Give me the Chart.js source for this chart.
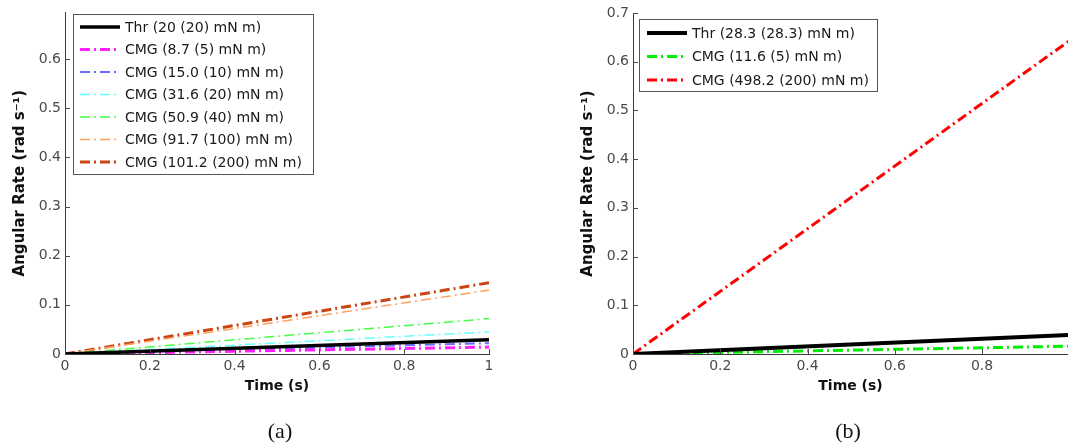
<!DOCTYPE html>
<html><head><meta charset="utf-8">
<script src="https://cdn.jsdelivr.net/npm/chart.js@4.4.1/dist/chart.umd.min.js"></script>
<style>
html,body{margin:0;padding:0;background:#fff;}
#wrap{position:relative;width:1068px;height:448px;overflow:hidden;background:#fff;}
.pane{position:absolute;top:0;width:534px;height:448px;}
.cap{position:absolute;top:418px;font-family:"Liberation Serif","DejaVu Serif",serif;font-size:22px;color:#111;transform:translateX(-50%);}
</style></head><body>
<div id="wrap">
  <div class="pane" style="left:0"><canvas id="c1" width="534" height="448"></canvas></div>
  <div class="pane" style="left:534px"><canvas id="c2" width="534" height="448"></canvas></div>
  <div class="cap" style="left:280px">(a)</div>
  <div class="cap" style="left:848px">(b)</div>
</div>
<script>
// ---------- data: panel (a) ----------
const timeA = [0, 1];
const thrA_20 = [0, 0.029];
const cmgA_8_7 = [0, 0.014];
const cmgA_15_0 = [0, 0.022];
const cmgA_31_6 = [0, 0.045];
const cmgA_50_9 = [0, 0.072];
const cmgA_91_7 = [0, 0.130];
const cmgA_101_2 = [0, 0.145];
const seriesLabelsA = [
  'Thr (20 (20) mN m)',
  'CMG (8.7 (5) mN m)',
  'CMG (15.0 (10) mN m)',
  'CMG (31.6 (20) mN m)',
  'CMG (50.9 (40) mN m)',
  'CMG (91.7 (100) mN m)',
  'CMG (101.2 (200) mN m)'
];
const xTicksA = [0, 0.2, 0.4, 0.6, 0.8, 1];
const xTickLabelsA = ['0', '0.2', '0.4', '0.6', '0.8', '1'];
const yTicksA = [0, 0.1, 0.2, 0.3, 0.4, 0.5, 0.6];
const yTickLabelsA = ['0', '0.1', '0.2', '0.3', '0.4', '0.5', '0.6'];

// ---------- data: panel (b) ----------
const timeB = [0, 1];
const thrB_28_3 = [0, 0.039];
const cmgB_11_6 = [0, 0.016];
const cmgB_498_2 = [0, 0.643];
const seriesLabelsB = [
  'Thr (28.3 (28.3) mN m)',
  'CMG (11.6 (5) mN m)',
  'CMG (498.2 (200) mN m)'
];
const xTicksB = [0, 0.2, 0.4, 0.6, 0.8];
const xTickLabelsB = ['0', '0.2', '0.4', '0.6', '0.8'];
const yTicksB = [0, 0.1, 0.2, 0.3, 0.4, 0.5, 0.6, 0.7];
const yTickLabelsB = ['0', '0.1', '0.2', '0.3', '0.4', '0.5', '0.6', '0.7'];

// ---------- styling ----------
const FONT = 'DejaVu Sans';
const DASHDOT = [10, 4, 2, 4];
const AXIS_COLOR = '#3a3a3a';
const TICK_COLOR = '#4a4a4a';

function pts(xs, ys) { return xs.map((x, i) => ({x: x, y: ys[i]})); }
function ds(label, xs, ys, color, width, dash) {
  return {label, data: pts(xs, ys), borderColor: color, borderWidth: width,
    borderDash: dash, borderCapStyle: 'butt', pointRadius: 0, fill: false, tension: 0, showLine: true};
}

const dataA = [
  ds(seriesLabelsA[0], timeA, thrA_20, '#000000', 3.5, []),
  ds(seriesLabelsA[1], timeA, cmgA_8_7, '#ff22ff', 3, DASHDOT),
  ds(seriesLabelsA[2], timeA, cmgA_15_0, '#6a6aff', 2, DASHDOT),
  ds(seriesLabelsA[3], timeA, cmgA_31_6, '#66ffff', 1.5, DASHDOT),
  ds(seriesLabelsA[4], timeA, cmgA_50_9, '#44ff44', 1.5, DASHDOT),
  ds(seriesLabelsA[5], timeA, cmgA_91_7, '#ffa060', 1.5, DASHDOT),
  ds(seriesLabelsA[6], timeA, cmgA_101_2, '#cc4411', 3, DASHDOT)
];
const dataB = [
  ds(seriesLabelsB[0], timeB, thrB_28_3, '#000000', 4, []),
  ds(seriesLabelsB[1], timeB, cmgB_11_6, '#00ee00', 3, DASHDOT),
  ds(seriesLabelsB[2], timeB, cmgB_498_2, '#ff0000', 3, DASHDOT)
];

function decorPlugin(leg) {
  return {
    id: 'decor',
    afterDraw(chart) {
      const ctx = chart.ctx, ca = chart.chartArea;
      const xs = chart.scales.x, ys = chart.scales.y;
      ctx.save();
      // inward tick marks
      ctx.strokeStyle = TICK_COLOR; ctx.lineWidth = 1; ctx.setLineDash([]);
      xs.ticks.forEach(t => {
        const px = Math.round(xs.getPixelForValue(t.value)) + 0.5;
        ctx.beginPath(); ctx.moveTo(px, ca.bottom); ctx.lineTo(px, ca.bottom - 5); ctx.stroke();
      });
      ys.ticks.forEach(t => {
        const py = Math.round(ys.getPixelForValue(t.value)) + 0.5;
        ctx.beginPath(); ctx.moveTo(ca.left, py); ctx.lineTo(ca.left + 5, py); ctx.stroke();
      });
      // legend box
      ctx.fillStyle = '#ffffff';
      ctx.fillRect(leg.x, leg.y, leg.w, leg.h);
      ctx.strokeStyle = '#555555'; ctx.lineWidth = 1;
      ctx.strokeRect(leg.x + 0.5, leg.y + 0.5, leg.w, leg.h);
      ctx.font = '14px "' + FONT + '"';
      ctx.textBaseline = 'middle'; ctx.textAlign = 'left';
      chart.data.datasets.forEach((d, i) => {
        const yy = leg.row0 + i * leg.rowH;
        ctx.strokeStyle = d.borderColor; ctx.lineWidth = d.borderWidth;
        ctx.setLineDash(d.borderDash || []); ctx.lineCap = 'butt';
        ctx.beginPath(); ctx.moveTo(leg.sx0, yy); ctx.lineTo(leg.sx1, yy); ctx.stroke();
        ctx.setLineDash([]);
        ctx.fillStyle = '#1a1a1a';
        ctx.fillText(d.label, leg.tx, yy + 1);
      });
      ctx.restore();
    }
  };
}

function makeChart(id, datasets, o) {
  return new Chart(document.getElementById(id), {
    type: 'scatter',
    data: {datasets},
    options: {
      responsive: false, animation: false, events: [],
      layout: {padding: {top: o.padTop, right: o.padRight, bottom: 0, left: 0}},
      plugins: {legend: {display: false}, tooltip: {enabled: false}},
      scales: {
        x: {
          type: 'linear', min: 0, max: o.xMax,
          afterBuildTicks: s => { s.ticks = o.xTicks.map(v => ({value: v})); },
          afterFit: s => { s.height = 94; },
          ticks: {callback: (v, i) => o.xLabels[i], font: {family: FONT, size: 14}, color: TICK_COLOR,
                  padding: 4, maxRotation: 0, autoSkip: false},
          grid: {display: true, drawOnChartArea: false, drawTicks: false},
          border: {display: true, color: AXIS_COLOR, width: 1},
          title: {display: true, text: 'Time (s)', color: '#111',
                  font: {family: FONT, size: 14, weight: 'bold'}, padding: {top: 0, bottom: 53.6}}
        },
        y: {
          type: 'linear', min: 0, max: o.yMax,
          afterBuildTicks: s => { s.ticks = o.yTicks.map(v => ({value: v})); },
          afterFit: s => { s.width = o.yWidth; },
          ticks: {callback: (v, i) => o.yLabels[i], font: {family: FONT, size: 14}, color: TICK_COLOR,
                  padding: 4, autoSkip: false},
          grid: {display: true, drawOnChartArea: false, drawTicks: false},
          border: {display: true, color: AXIS_COLOR, width: 1},
          title: {display: true, text: 'Angular Rate (rad s\u207B\u00B9)', color: '#111',
                  font: {family: FONT, size: 15, weight: 'bold'}, padding: {top: o.yTitlePad, bottom: 0}}
        }
      }
    },
    plugins: [decorPlugin(o.legend)]
  });
}

makeChart('c1', dataA, {
  xMax: 1, yMax: 0.695, xTicks: xTicksA, xLabels: xTickLabelsA, yTicks: yTicksA, yLabels: yTickLabelsA,
  yWidth: 65, yTitlePad: 11, padTop: 7, padRight: 45,
  legend: {x: 73, y: 14, w: 240, h: 160, row0: 27, rowH: 22.5, sx0: 80, sx1: 120, tx: 125}
});
makeChart('c2', dataB, {
  xMax: 0.997, yMax: 0.7, xTicks: xTicksB, xLabels: xTickLabelsB, yTicks: yTicksB, yLabels: yTickLabelsB,
  yWidth: 99, yTitlePad: 45, padTop: 13, padRight: 0,
  legend: {x: 105, y: 19, w: 238, h: 72, row0: 33, rowH: 23.5, sx0: 113, sx1: 153, tx: 158}
});
</script>
</body></html>
